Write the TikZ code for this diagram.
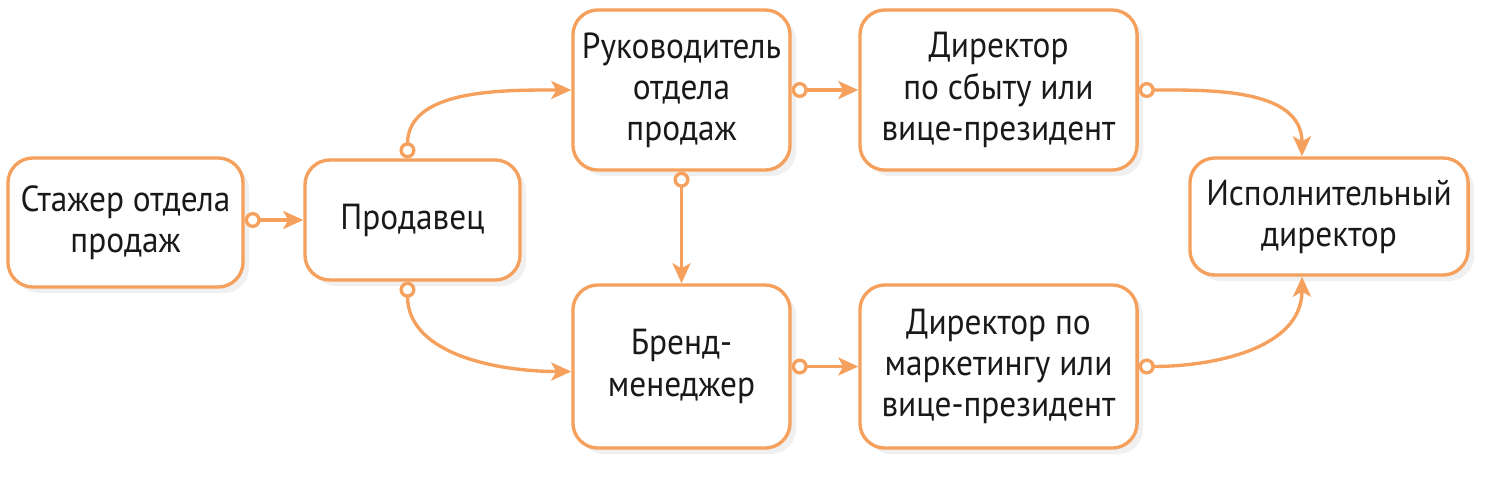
\documentclass[tikz,border=0pt]{standalone}
\usepackage{fontspec}
\setmainfont{PT Sans}[FakeStretch=0.92]
\usetikzlibrary{arrows.meta}
\usetikzlibrary{shadows}
\definecolor{flowor}{RGB}{245,160,92}
\def\thickness{0.95pt}
\tikzstyle{box}=[draw=flowor, fill=white, line width=\thickness, rounded corners=0.25cm, inner sep=2pt, align=center, text=black!90, font=\fontsize{10.3}{11.7}\selectfont, drop shadow={opacity=0.12, shadow xshift=0.06cm, shadow yshift=-0.06cm}]
\tikzstyle{flow}=[draw=flowor, line width=\thickness, {Circle[open, fill=white, length=1.6mm, width=1.6mm]}-{Stealth[length=2mm, width=1.8mm, inset=0.5mm]}]

\begin{document}
\begin{tikzpicture}[x=0.01cm, y=-0.01cm]
\useasboundingbox (0,0) rectangle (1500,478);
\node [box, minimum width=2.35cm, minimum height=1.29cm] (stazher) at (125.5,222.5) {Стажер отдела\\продаж};
\node [box, minimum width=2.15cm, minimum height=1.2cm] (prodavec) at (412.5,220) {Продавец};
\node [box, minimum width=2.17cm, minimum height=1.6cm] (ruk) at (681.5,90) {Руководитель\\отдела\\продаж};
\node [box, minimum width=2.17cm, minimum height=1.63cm] (brend) at (681.5,366.5) {Бренд-\\менеджер};
\node [box, minimum width=2.77cm, minimum height=1.6cm] (dirsbyt) at (998.5,90) {Директор\\по сбыту или\\вице-президент};
\node [box, minimum width=2.77cm, minimum height=1.63cm] (dirmark) at (998.5,366.5) {Директор по\\маркетингу или\\вице-президент};
\node [box, minimum width=2.78cm, minimum height=1.17cm] (ispdir) at (1329,216.5) {Исполнительный\\директор};
\draw [flow] (prodavec.west -| stazher.east) -- (prodavec.west);
\draw [flow] ([xshift=-0.05cm]prodavec.north) to [out=90, in=180] (ruk.west);
\draw [flow] ([xshift=-0.05cm]prodavec.south) to [out=-90, in=180] ([yshift=-0.05cm]brend.west);
\draw [flow] (ruk.east) -- (dirsbyt.west);
\draw [flow] (brend.east) -- (dirmark.west);
\draw [flow] (ruk.south) -- (brend.north);
\draw [flow] (dirsbyt.east) to [out=0, in=90] ([xshift=-0.27cm]ispdir.north);
\draw [flow] (dirmark.east) to [out=0, in=-90] ([xshift=-0.27cm]ispdir.south);
\end{tikzpicture}
\end{document}
